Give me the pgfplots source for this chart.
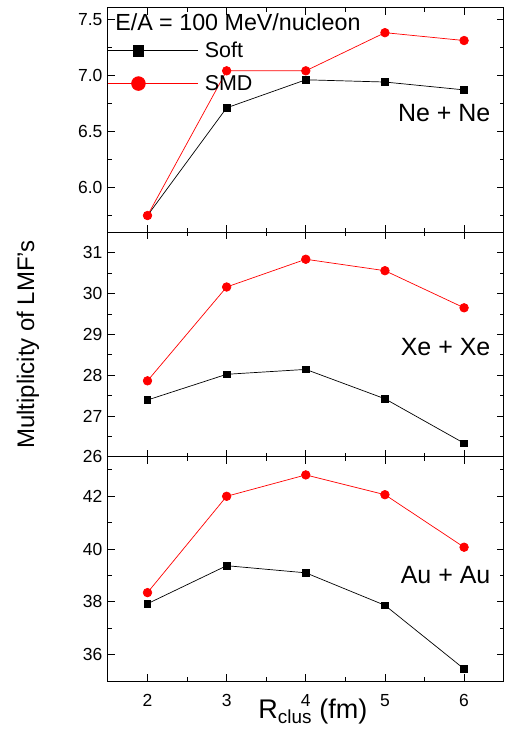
\documentclass[border=0pt]{standalone}
\usepackage{fontspec}
\setmainfont{Liberation Sans}
\usepackage{pgfplots}
\pgfplotsset{compat=1.18}
\usepgfplotslibrary{groupplots}

\pgfplotsset{
  panel/.style={
    scale only axis, width=396pt, height=224.5pt,
    xmin=1.5, xmax=6.5,
    xtick={2,3,4,5,6}, minor xtick={2.5,3.5,4.5,5.5},
    tick align=inside, xtick pos=both, ytick pos=both, yticklabel pos=left,
    major tick length=7pt, minor tick length=4pt,
    tick style={black, line width=0.8pt},
    axis line style={line width=1pt},
    tick label style={font=\fontsize{17.5}{20}\selectfont},
    xticklabel style={yshift=-10pt},
    yticklabel style={xshift=-2pt},
    /pgf/number format/assume math mode=true,
  },
  soft/.style={black, line width=0.7pt, mark=square*, mark size=3.3pt},
  smd/.style={red, line width=0.7pt, mark=*, mark size=4.3pt},
}
\pgfplotsset{
  /pgfplots/legend image code/.code={%
    \path (0pt,0pt) -- (90pt,0pt);
    \draw[#1, mark=none] (2pt,0pt) -- (57pt,0pt);
    \draw[#1, every mark/.append style={scale=1.6}] plot[only marks] coordinates {(30pt,0pt)};%
  },
}
\tikzset{lab/.style={anchor=east, font=\fontsize{25}{28}\selectfont, inner sep=0pt}}

\begin{document}
\begin{tikzpicture}
\begin{groupplot}[
  group style={group size=1 by 3, vertical sep=0pt, xticklabels at=edge bottom},
  panel,
]
% Ne + Ne
\nextgroupplot[
  ymin=5.6, ymax=7.6,
  ytick={6,6.5,7,7.5}, minor ytick={5.75,6.25,6.75,7.25},
  yticklabel style={/pgf/number format/.cd, fixed, fixed zerofill, precision=1},
  legend style={at={(rel axis cs:0,0.857)}, anchor=north west, draw=none, fill=none,
    inner sep=0pt, row sep=12pt, column sep=4pt, nodes={inner sep=2pt},
    font=\fontsize{21.5}{24}\selectfont},
  legend cell align=left,
]
\addplot[soft] coordinates {(2,5.75) (3,6.71) (4,6.96) (5,6.94) (6,6.87)};
\addlegendentry{Soft}
\addplot[smd] coordinates {(2,5.75) (3,7.04) (4,7.04) (5,7.38) (6,7.31)};
\addlegendentry{SMD}
\node[anchor=west, font=\fontsize{23.3}{26}\selectfont, inner sep=0pt]
  at (rel axis cs:0.018,0.935) {E/A = 100 MeV/nucleon};
\node[lab] at (rel axis cs:0.967,0.531) {Ne + Ne};

% Xe + Xe
\nextgroupplot[
  ymin=26, ymax=31.5,
  ytick={26,27,28,29,30,31}, minor ytick={26.5,27.5,28.5,29.5,30.5},
]
\addplot[soft] coordinates {(2,27.39) (3,28.02) (4,28.14) (5,27.42) (6,26.33)};
\addplot[smd] coordinates {(2,27.86) (3,30.16) (4,30.84) (5,30.56) (6,29.65)};
\node[lab] at (rel axis cs:0.967,0.49) {Xe + Xe};

% Au + Au
\nextgroupplot[
  ymin=35, ymax=43.5,
  ytick={36,38,40,42}, minor ytick={37,39,41,43},
  xlabel={R\textsubscript{clus} (fm)},
  xlabel style={at={(rel axis cs:0.518,0)}, anchor=base, yshift=-37pt,
    font=\fontsize{27}{30}\selectfont},
]
\addplot[soft] coordinates {(2,37.93) (3,39.37) (4,39.10) (5,37.87) (6,35.46)};
\addplot[smd] coordinates {(2,38.35) (3,42.00) (4,42.81) (5,42.06) (6,40.07)};
\node[lab] at (rel axis cs:0.967,0.473) {Au + Au};
\end{groupplot}

\node[rotate=90, font=\fontsize{24}{26}\selectfont]
  at ([xshift=-80pt]group c1r2.west) {Multiplicity of LMF's};
\path ([xshift=-108pt,yshift=8pt]group c1r1.north west)
  rectangle ([xshift=1pt,yshift=-48pt]group c1r3.south east);
\end{tikzpicture}
\end{document}
